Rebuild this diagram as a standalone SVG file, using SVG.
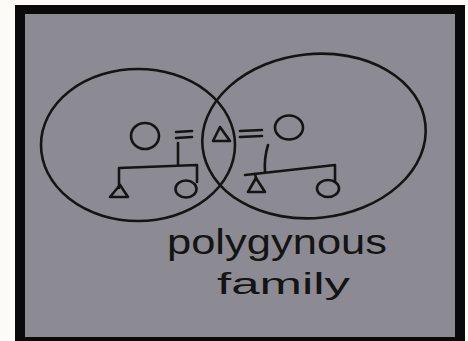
<svg xmlns="http://www.w3.org/2000/svg" width="468" height="341" viewBox="0 0 468 341">
<style>
.ln{fill:none;stroke:#141414;stroke-width:2.6;stroke-linecap:round;stroke-linejoin:round}
.txt{font-family:"Liberation Sans","DejaVu Sans",sans-serif;fill:#141414}
</style>
<rect x="0" y="0" width="468" height="341" fill="#fcfbf6"/>
<rect x="15" y="5" width="450" height="336" fill="#0a0a0a"/>
<rect x="25" y="14" width="430" height="323" fill="#8c8b93"/>
<g id="household-left"><ellipse class="ln" cx="138" cy="145" rx="97" ry="76"/></g>
<g id="household-right"><ellipse class="ln" cx="314" cy="136" rx="112" ry="82" transform="rotate(-6 314 136)"/></g>
<g id="wife-1"><ellipse class="ln" cx="145" cy="136" rx="14" ry="13"/></g>
<g id="husband"><polygon class="ln" points="213,141 220,127 230,141"/></g>
<g id="wife-2"><ellipse class="ln" cx="289" cy="127.5" rx="14" ry="12"/></g>
<g id="son-1"><polygon class="ln" points="110,197 120,185 128,197"/></g>
<g id="daughter-1"><ellipse class="ln" cx="186" cy="189" rx="10.5" ry="8.5"/></g>
<g id="son-2"><polygon class="ln" points="248,192 256,178 265,192"/></g>
<g id="daughter-2"><ellipse class="ln" cx="328" cy="188.5" rx="11" ry="8.5"/></g>
<g id="connectors">
<path class="ln" d="M176,132 L192,131 M176,138 L192,137"/>
<path class="ln" d="M240,131 L262,130 M240,137 L262,136"/>
<path class="ln" d="M178,143 L178,165"/>
<path class="ln" d="M119,188 L119,168 L197,165 L197,182"/>
<path class="ln" d="M268,145 Q264,158 265,172"/>
<path class="ln" d="M245,175 L335,165 L335,182"/>
<path class="ln" d="M255,174 L256,178"/>
</g>
<g id="label">
<text class="txt" x="167" y="254" font-size="35" textLength="220" lengthAdjust="spacingAndGlyphs">polygynous</text>
<text class="txt" x="217" y="294" font-size="30" textLength="133" lengthAdjust="spacingAndGlyphs">family</text>
</g>
</svg>
